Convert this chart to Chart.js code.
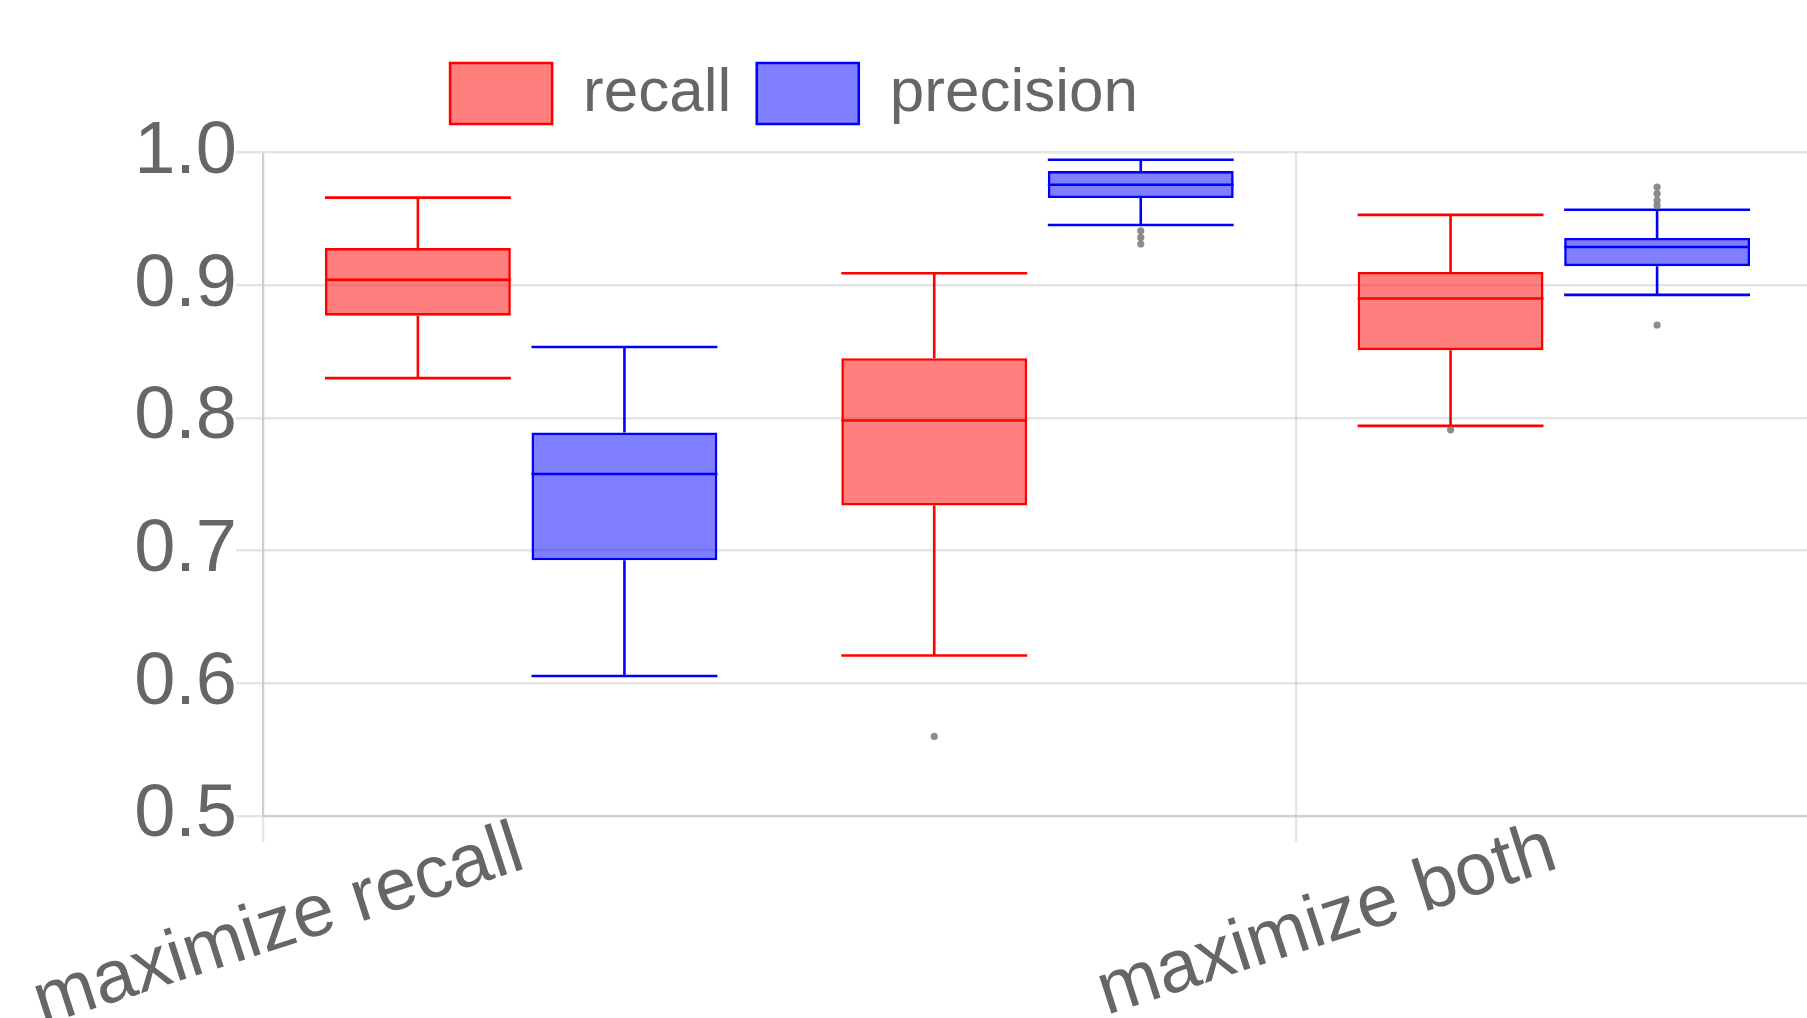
<!DOCTYPE html>
<html>
<head>
<meta charset="utf-8">
<script src="https://cdn.jsdelivr.net/npm/chart.js@4.4.1/dist/chart.umd.min.js"></script>
<style>
  html, body { margin: 0; padding: 0; background: #fff; overflow: hidden; width: 1807px; height: 1018px; }
  #c { position: absolute; left: -224px; top: 0; }
</style>
</head>
<body>
<canvas id="c" width="2036" height="1100"></canvas>
<script>
// ---- data ----
const categories = ['maximize recall', 'maximize precision', 'maximize both'];
const shownLabels = [true, false, true];
const seriesNames = ['recall', 'precision'];

const recallMin = [0.830, 0.621, 0.794];
const recallQ1 = [0.877, 0.734, 0.851];
const recallMedian = [0.904, 0.798, 0.890];
const recallQ3 = [0.928, 0.845, 0.910];
const recallMax = [0.966, 0.909, 0.953];
const recallOutliers = [[], [0.560], [0.791]];

const precisionMin = [0.6055, 0.9454, 0.8927];
const precisionQ1 = [0.6927, 0.9657, 0.9143];
const precisionMedian = [0.7577, 0.9757, 0.9288];
const precisionQ3 = [0.789, 0.986, 0.9356];
const precisionMax = [0.8534, 0.9945, 0.9569];
const precisionOutliers = [[], [0.941, 0.936, 0.931], [0.974, 0.969, 0.964, 0.960, 0.870]];

const yTicks = [0.5, 0.6, 0.7, 0.8, 0.9, 1.0];

// ---- build ----
const stats = [
  { min: recallMin, q1: recallQ1, median: recallMedian, q3: recallQ3, max: recallMax, outliers: recallOutliers },
  { min: precisionMin, q1: precisionQ1, median: precisionMedian, q3: precisionQ3, max: precisionMax, outliers: precisionOutliers }
];
const colors = [
  { fill: 'rgba(255,0,0,0.5)', line: 'rgb(255,0,0)' },
  { fill: 'rgba(0,0,255,0.5)', line: 'rgb(0,0,255)' }
];
const LW = 2.6;
const GRID = 'rgba(0,0,0,0.1)';

const whiskerPlugin = {
  id: 'whiskers',
  afterDatasetsDraw(chart) {
    const ctx = chart.ctx;
    const ys = chart.scales.y;
    chart.data.datasets.forEach((ds, di) => {
      const meta = chart.getDatasetMeta(di);
      const s = stats[di];
      meta.data.forEach((bar, i) => {
        const p = bar.getProps(['x', 'width'], true);
        const x = p.x, h = p.width / 2;
        const yMin = ys.getPixelForValue(s.min[i]);
        const yQ1 = ys.getPixelForValue(s.q1[i]);
        const yMed = ys.getPixelForValue(s.median[i]);
        const yQ3 = ys.getPixelForValue(s.q3[i]);
        const yMax = ys.getPixelForValue(s.max[i]);
        ctx.save();
        ctx.strokeStyle = ds.borderColor;
        ctx.lineWidth = LW;
        ctx.beginPath();
        ctx.moveTo(x, yQ3); ctx.lineTo(x, yMax);
        ctx.moveTo(x, yQ1); ctx.lineTo(x, yMin);
        ctx.moveTo(x - h, yMax); ctx.lineTo(x + h, yMax);
        ctx.moveTo(x - h, yMin); ctx.lineTo(x + h, yMin);
        ctx.moveTo(x - h, yMed); ctx.lineTo(x + h, yMed);
        ctx.stroke();
        ctx.fillStyle = 'rgba(128,128,128,0.9)';
        s.outliers[i].forEach(v => {
          ctx.beginPath();
          ctx.arc(x, ys.getPixelForValue(v), 3.6, 0, Math.PI * 2);
          ctx.fill();
        });
        ctx.restore();
      });
    });
  }
};

const datasets = seriesNames.map((name, di) => ({
  label: name,
  data: categories.map((_, i) => [stats[di].q1[i], stats[di].q3[i]]),
  backgroundColor: colors[di].fill,
  borderColor: colors[di].line,
  borderWidth: LW,
  borderSkipped: false,
  categoryPercentage: 0.8,
  barPercentage: 0.9
}));

const font = { family: '"Liberation Sans", Arial, sans-serif' };

new Chart(document.getElementById('c'), {
  type: 'bar',
  data: { labels: categories, datasets },
  plugins: [whiskerPlugin],
  options: {
    responsive: false,
    animation: false,
    devicePixelRatio: 1,
    layout: { padding: { left: 0, top: 37, right: 0, bottom: 0 } },
    plugins: {
      tooltip: { enabled: false },
      title: { display: true, text: '', weight: 500, padding: 0, font: { size: 18, lineHeight: 1 } },
      legend: {
        position: 'top',
        labels: {
          color: '#666',
          font: { ...font, size: 62 },
          boxWidth: 102,
          boxHeight: 61,
          padding: 25.5
        }
      }
    },
    scales: {
      x: {
        offset: true,
        afterFit(scale) { scale.height = 284; },
        grid: {
          offset: true,
          color: (c) => (c.index === 1 ? 'rgba(0,0,0,0)' : GRID),
          lineWidth: 2.3,
          tickLength: 26
        },
        border: { color: GRID, width: 2.3 },
        ticks: {
          color: '#666',
          font: { ...font, size: 74 },
          autoSkip: false,
          minRotation: 18,
          maxRotation: 18,
          padding: -36,
          callback(value, index) { return shownLabels[index] ? categories[index] : ''; }
        }
      },
      y: {
        min: 0.5,
        max: 1.0,
        afterFit(scale) { scale.width = 487; },
        afterBuildTicks(scale) { scale.ticks = yTicks.map(v => ({ value: v })); },
        grid: { color: GRID, lineWidth: 2.5, tickLength: 27 },
        border: { color: GRID, width: 2.3 },
        ticks: {
          color: '#666',
          font: { ...font, size: 74 },
          padding: -1,
          callback(value) { return Number(value).toFixed(1); }
        }
      }
    }
  }
});
</script>
</body>
</html>
